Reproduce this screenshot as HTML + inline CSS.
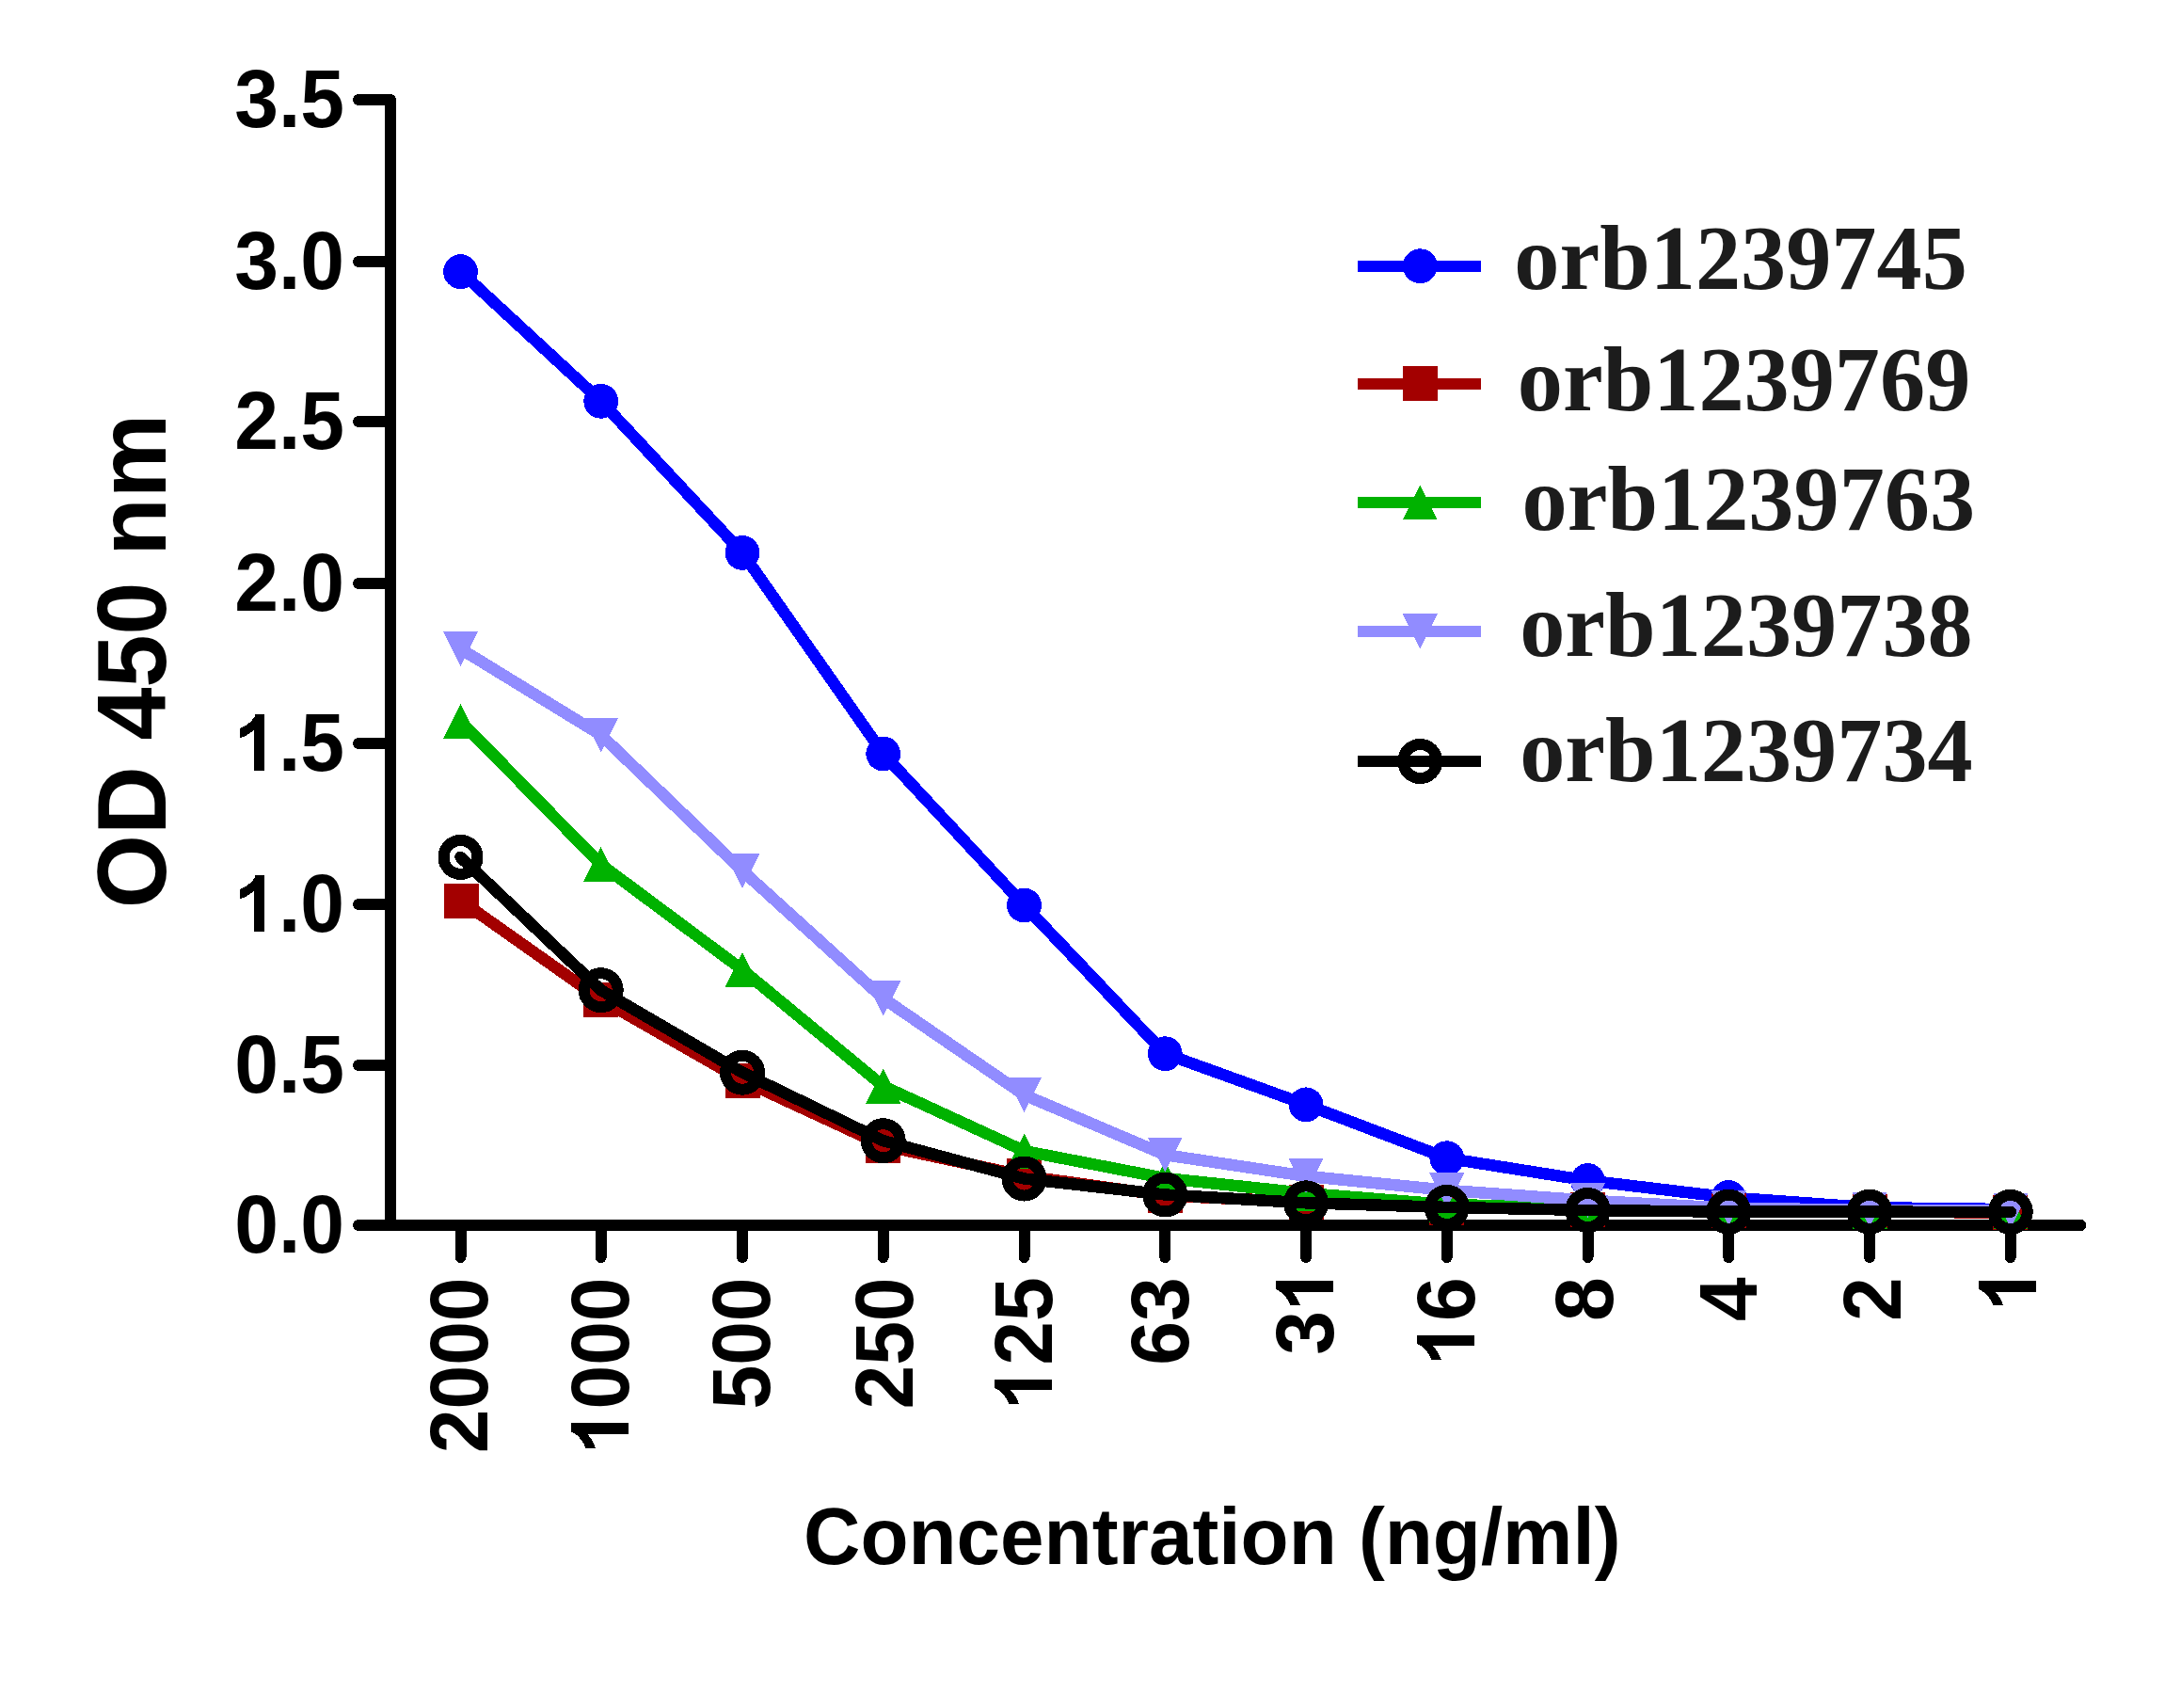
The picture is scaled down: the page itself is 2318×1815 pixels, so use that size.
<!DOCTYPE html>
<html lang="en">
<head>
<meta charset="utf-8">
<title>ELISA titration – OD 450 nm vs Concentration</title>
<style>
html,body{margin:0;padding:0;background:#fff;}
body{width:2318px;height:1815px;overflow:hidden;}
svg{display:block;}
.sans{font-family:"Liberation Sans",sans-serif;font-weight:bold;fill:#000;}
.serif{font-family:"Liberation Serif",serif;font-weight:bold;fill:#1c1c1c;}
</style>
</head>
<body>
<svg width="2318" height="1815" viewBox="0 0 2318 1815" shape-rendering="crispEdges">
<rect width="2318" height="1815" fill="#fff"/>
<g id="axes" stroke="#000" stroke-width="12" stroke-linecap="round" stroke-linejoin="round" fill="none">
<path d="M381,106 H415 V1302"/>
<path d="M381,1302 H2211.5"/>
<path d="M381,278 H415"/>
<path d="M381,448 H415"/>
<path d="M381,620 H415"/>
<path d="M381,790 H415"/>
<path d="M381,961 H415"/>
<path d="M381,1132 H415"/>
<path d="M489.5,1302 V1336"/>
<path d="M638.7,1302 V1336"/>
<path d="M789,1302 V1336"/>
<path d="M938.75,1302 V1336"/>
<path d="M1088.5,1302 V1336"/>
<path d="M1238.25,1302 V1336"/>
<path d="M1388,1302 V1336"/>
<path d="M1537.75,1302 V1336"/>
<path d="M1687.5,1302 V1336"/>
<path d="M1837.25,1302 V1336"/>
<path d="M1987,1302 V1336"/>
<path d="M2136.75,1302 V1336"/>
</g>
<g id="ylabels" class="sans" font-size="84">
<g transform="translate(366,135.3)"><text text-anchor="start" transform="translate(-116.77,0) scale(1,1.04)">3.5</text></g>
<g transform="translate(366,307.3)"><text text-anchor="start" transform="translate(-116.77,0) scale(1,1.04)">3.0</text></g>
<g transform="translate(366,477.3)"><text text-anchor="start" transform="translate(-116.77,0) scale(1,1.04)">2.5</text></g>
<g transform="translate(366,649.3)"><text text-anchor="start" transform="translate(-116.77,0) scale(1,1.04)">2.0</text></g>
<g transform="translate(366,819.3)"><path d="M806 0H525V-1059Q371-915 162-846V-1101Q272-1137 401-1237.5T578-1472H806Z" transform="translate(-117.97,0) scale(0.04102)"/><text text-anchor="start" transform="translate(-70.05,0) scale(1,1.04)">.5</text></g>
<g transform="translate(366,990.3)"><path d="M806 0H525V-1059Q371-915 162-846V-1101Q272-1137 401-1237.5T578-1472H806Z" transform="translate(-117.97,0) scale(0.04102)"/><text text-anchor="start" transform="translate(-70.05,0) scale(1,1.04)">.0</text></g>
<g transform="translate(366,1161.3)"><text text-anchor="start" transform="translate(-116.77,0) scale(1,1.04)">0.5</text></g>
<g transform="translate(366,1331.3)"><text text-anchor="start" transform="translate(-116.77,0) scale(1,1.04)">0.0</text></g>
</g>
<g id="xlabels" class="sans" font-size="84">
<g transform="translate(517.7,1357.4) rotate(-90)"><text text-anchor="start" transform="translate(-186.87,0) scale(1,1.04)">2000</text></g>
<g transform="translate(667.7,1357.4) rotate(-90)"><path d="M806 0H525V-1059Q371-915 162-846V-1101Q272-1137 401-1237.5T578-1472H806Z" transform="translate(-188.07,0) scale(0.04102)"/><text text-anchor="start" transform="translate(-140.15,0) scale(1,1.04)">000</text></g>
<g transform="translate(817.9,1357.4) rotate(-90)"><text text-anchor="start" transform="translate(-140.15,0) scale(1,1.04)">500</text></g>
<g transform="translate(970.4,1357.4) rotate(-90)"><text text-anchor="start" transform="translate(-140.15,0) scale(1,1.04)">250</text></g>
<g transform="translate(1117.7,1357.4) rotate(-90)"><path d="M806 0H525V-1059Q371-915 162-846V-1101Q272-1137 401-1237.5T578-1472H806Z" transform="translate(-141.35,0) scale(0.04102)"/><text text-anchor="start" transform="translate(-93.43,0) scale(1,1.04)">25</text></g>
<g transform="translate(1263.4,1357.4) rotate(-90)"><text text-anchor="start" transform="translate(-93.43,0) scale(1,1.04)">63</text></g>
<g transform="translate(1416.7,1346.2) rotate(-90)"><text text-anchor="start" transform="translate(-93.43,0) scale(1,1.04)">3</text><path d="M806 0H525V-1059Q371-915 162-846V-1101Q272-1137 401-1237.5T578-1472H806Z" transform="translate(-47.92,0) scale(0.04102)"/></g>
<g transform="translate(1566.7,1357.4) rotate(-90)"><path d="M806 0H525V-1059Q371-915 162-846V-1101Q272-1137 401-1237.5T578-1472H806Z" transform="translate(-94.63,0) scale(0.04102)"/><text text-anchor="start" transform="translate(-46.72,0) scale(1,1.04)">6</text></g>
<g transform="translate(1713.8,1357.4) rotate(-90)"><text text-anchor="start" transform="translate(-46.72,0) scale(1,1.04)">8</text></g>
<g transform="translate(1866.7,1357.4) rotate(-90)"><text text-anchor="start" transform="translate(-46.72,0) scale(1,1.04)">4</text></g>
<g transform="translate(2019.8,1357.4) rotate(-90)"><text text-anchor="start" transform="translate(-46.72,0) scale(1,1.04)">2</text></g>
<g transform="translate(2163.8,1346.2) rotate(-90)"><path d="M806 0H525V-1059Q371-915 162-846V-1101Q272-1137 401-1237.5T578-1472H806Z" transform="translate(-47.92,0) scale(0.04102)"/></g>
</g>
<text class="sans" font-size="100.6" text-anchor="middle" transform="translate(175.5,702.5) rotate(-90) scale(1,1.03)">OD 450 nm</text>
<text class="sans" font-size="83.6" text-anchor="middle" transform="translate(1288.3,1662) scale(1,1.02)">Concentration (ng/ml)</text>
<g id="s745">
<polyline points="489.5,288.6 638.7,426.3 789,587.4 938.75,801 1088.5,962 1238.25,1119.7 1388,1173.8 1537.75,1230.7 1687.5,1254.5 1837.25,1272.4 1987,1283.2 2136.75,1285.1" fill="none" stroke="#0000ff" stroke-width="12.5" stroke-linecap="round" stroke-linejoin="round"/>
<circle cx="489.5" cy="288.6" r="18.4" fill="#0000ff"/>
<circle cx="638.7" cy="426.3" r="18.4" fill="#0000ff"/>
<circle cx="789" cy="587.4" r="18.4" fill="#0000ff"/>
<circle cx="938.75" cy="801" r="18.4" fill="#0000ff"/>
<circle cx="1088.5" cy="962" r="18.4" fill="#0000ff"/>
<circle cx="1238.25" cy="1119.7" r="18.4" fill="#0000ff"/>
<circle cx="1388" cy="1173.8" r="18.4" fill="#0000ff"/>
<circle cx="1537.75" cy="1230.7" r="18.4" fill="#0000ff"/>
<circle cx="1687.5" cy="1254.5" r="18.4" fill="#0000ff"/>
<circle cx="1837.25" cy="1272.4" r="18.4" fill="#0000ff"/>
<circle cx="1987" cy="1283.2" r="18.4" fill="#0000ff"/>
<circle cx="2136.75" cy="1285.1" r="18.4" fill="#0000ff"/>
</g>
<g id="s769">
<polyline points="490.4,957.5 638.7,1062.2 789,1148.1 938.75,1217.4 1088.5,1249.5 1238.25,1270.5 1388,1277.4 1537.75,1283.1 1687.5,1285.5 1837.25,1286.6 1987,1287.3 2136.75,1288.9" fill="none" stroke="#a30000" stroke-width="12.5" stroke-linecap="round" stroke-linejoin="round"/>
<rect x="471.9" y="939" width="37" height="37" fill="#a30000"/>
<rect x="620.2" y="1043.7" width="37" height="37" fill="#a30000"/>
<rect x="770.5" y="1129.6" width="37" height="37" fill="#a30000"/>
<rect x="920.25" y="1198.9" width="37" height="37" fill="#a30000"/>
<rect x="1070" y="1231" width="37" height="37" fill="#a30000"/>
<rect x="1219.75" y="1252" width="37" height="37" fill="#a30000"/>
<rect x="1369.5" y="1258.9" width="37" height="37" fill="#a30000"/>
<rect x="1519.25" y="1264.6" width="37" height="37" fill="#a30000"/>
<rect x="1669" y="1267" width="37" height="37" fill="#a30000"/>
<rect x="1818.75" y="1268.1" width="37" height="37" fill="#a30000"/>
<rect x="1968.5" y="1268.8" width="37" height="37" fill="#a30000"/>
<rect x="2118.25" y="1270.4" width="37" height="37" fill="#a30000"/>
</g>
<g id="s763">
<polyline points="489.5,766.4 638.7,918.6 789,1030.5 938.75,1154.2 1088.5,1223 1238.25,1252 1388,1268 1537.75,1280 1687.5,1283.5 1837.25,1285.9 1987,1287 2136.75,1287.8" fill="none" stroke="#00b200" stroke-width="12.5" stroke-linecap="round" stroke-linejoin="round"/>
<polygon points="489.5,747.9 508,784.9 471,784.9" fill="#00b200"/>
<polygon points="638.7,900.1 657.2,937.1 620.2,937.1" fill="#00b200"/>
<polygon points="789,1012 807.5,1049 770.5,1049" fill="#00b200"/>
<polygon points="938.75,1135.7 957.25,1172.7 920.25,1172.7" fill="#00b200"/>
<polygon points="1088.5,1204.5 1107,1241.5 1070,1241.5" fill="#00b200"/>
<polygon points="1238.25,1233.5 1256.75,1270.5 1219.75,1270.5" fill="#00b200"/>
<polygon points="1388,1249.5 1406.5,1286.5 1369.5,1286.5" fill="#00b200"/>
<polygon points="1537.75,1261.5 1556.25,1298.5 1519.25,1298.5" fill="#00b200"/>
<polygon points="1687.5,1265 1706,1302 1669,1302" fill="#00b200"/>
<polygon points="1837.25,1267.4 1855.75,1304.4 1818.75,1304.4" fill="#00b200"/>
<polygon points="1987,1268.5 2005.5,1305.5 1968.5,1305.5" fill="#00b200"/>
<polygon points="2136.75,1269.3 2155.25,1306.3 2118.25,1306.3" fill="#00b200"/>
</g>
<g id="s738">
<polyline points="489.5,689.5 638.7,781 789,925.3 938.75,1060.9 1088.5,1163.5 1238.25,1227.2 1388,1249.8 1537.75,1264.8 1687.5,1275.6 1837.25,1283.8 1987,1285.7 2136.75,1286.5" fill="none" stroke="#918cff" stroke-width="12.5" stroke-linecap="round" stroke-linejoin="round"/>
<polygon points="471,671 508,671 489.5,708" fill="#918cff"/>
<polygon points="620.2,762.5 657.2,762.5 638.7,799.5" fill="#918cff"/>
<polygon points="770.5,906.8 807.5,906.8 789,943.8" fill="#918cff"/>
<polygon points="920.25,1042.4 957.25,1042.4 938.75,1079.4" fill="#918cff"/>
<polygon points="1070,1145 1107,1145 1088.5,1182" fill="#918cff"/>
<polygon points="1219.75,1208.7 1256.75,1208.7 1238.25,1245.7" fill="#918cff"/>
<polygon points="1369.5,1231.3 1406.5,1231.3 1388,1268.3" fill="#918cff"/>
<polygon points="1519.25,1246.3 1556.25,1246.3 1537.75,1283.3" fill="#918cff"/>
<polygon points="1669,1257.1 1706,1257.1 1687.5,1294.1" fill="#918cff"/>
<polygon points="1818.75,1265.3 1855.75,1265.3 1837.25,1302.3" fill="#918cff"/>
<polygon points="1968.5,1267.2 2005.5,1267.2 1987,1304.2" fill="#918cff"/>
<polygon points="2118.25,1268 2155.25,1268 2136.75,1305" fill="#918cff"/>
</g>
<g id="s734">
<polyline points="489.5,910.9 638.7,1052.2 789,1139.7 938.75,1212.2 1088.5,1252.5 1238.25,1269.5 1388,1278.3 1537.75,1282.9 1687.5,1286 1837.25,1287.7 1987,1287.7 2136.75,1287.9" fill="none" stroke="#000" stroke-width="12.5" stroke-linecap="round" stroke-linejoin="round"/>
<circle cx="489.5" cy="910.9" r="18" fill="none" stroke="#000" stroke-width="12"/>
<circle cx="638.7" cy="1052.2" r="18" fill="none" stroke="#000" stroke-width="12"/>
<circle cx="789" cy="1139.7" r="18" fill="none" stroke="#000" stroke-width="12"/>
<circle cx="938.75" cy="1212.2" r="18" fill="none" stroke="#000" stroke-width="12"/>
<circle cx="1088.5" cy="1252.5" r="18" fill="none" stroke="#000" stroke-width="12"/>
<circle cx="1238.25" cy="1269.5" r="18" fill="none" stroke="#000" stroke-width="12"/>
<circle cx="1388" cy="1278.3" r="18" fill="none" stroke="#000" stroke-width="12"/>
<circle cx="1537.75" cy="1282.9" r="18" fill="none" stroke="#000" stroke-width="12"/>
<circle cx="1687.5" cy="1286" r="18" fill="none" stroke="#000" stroke-width="12"/>
<circle cx="1837.25" cy="1287.7" r="18" fill="none" stroke="#000" stroke-width="12"/>
<circle cx="1987" cy="1287.7" r="18" fill="none" stroke="#000" stroke-width="12"/>
<circle cx="2136.75" cy="1287.9" r="18" fill="none" stroke="#000" stroke-width="12"/>
</g>
<g id="legend">
<line x1="1442.7" y1="282.7" x2="1574.1" y2="282.7" stroke="#0000ff" stroke-width="12"/>
<circle cx="1509.3" cy="282.7" r="18.4" fill="#0000ff"/>
<text class="serif" font-size="96.3" x="1609.3" y="307.1">orb1239745</text>
<line x1="1442.7" y1="407.8" x2="1574.1" y2="407.8" stroke="#a30000" stroke-width="12"/>
<rect x="1490.8" y="389.3" width="37" height="37" fill="#a30000"/>
<text class="serif" font-size="96.3" x="1612.8" y="436">orb1239769</text>
<line x1="1442.7" y1="533.8" x2="1574.1" y2="533.8" stroke="#00b200" stroke-width="12"/>
<polygon points="1509.3,515.3 1527.8,552.3 1490.8,552.3" fill="#00b200"/>
<text class="serif" font-size="96.3" x="1617.6" y="563.2">orb1239763</text>
<line x1="1442.7" y1="670.8" x2="1574.1" y2="670.8" stroke="#918cff" stroke-width="12"/>
<polygon points="1490.8,652.3 1527.8,652.3 1509.3,689.3" fill="#918cff"/>
<text class="serif" font-size="96.3" x="1615.2" y="696.7">orb1239738</text>
<line x1="1442.7" y1="809" x2="1574.1" y2="809" stroke="#000" stroke-width="12"/>
<circle cx="1509.3" cy="809" r="18" fill="none" stroke="#000" stroke-width="12"/>
<text class="serif" font-size="96.3" x="1615.2" y="829.9">orb1239734</text>
</g>
</svg>
</body>
</html>
